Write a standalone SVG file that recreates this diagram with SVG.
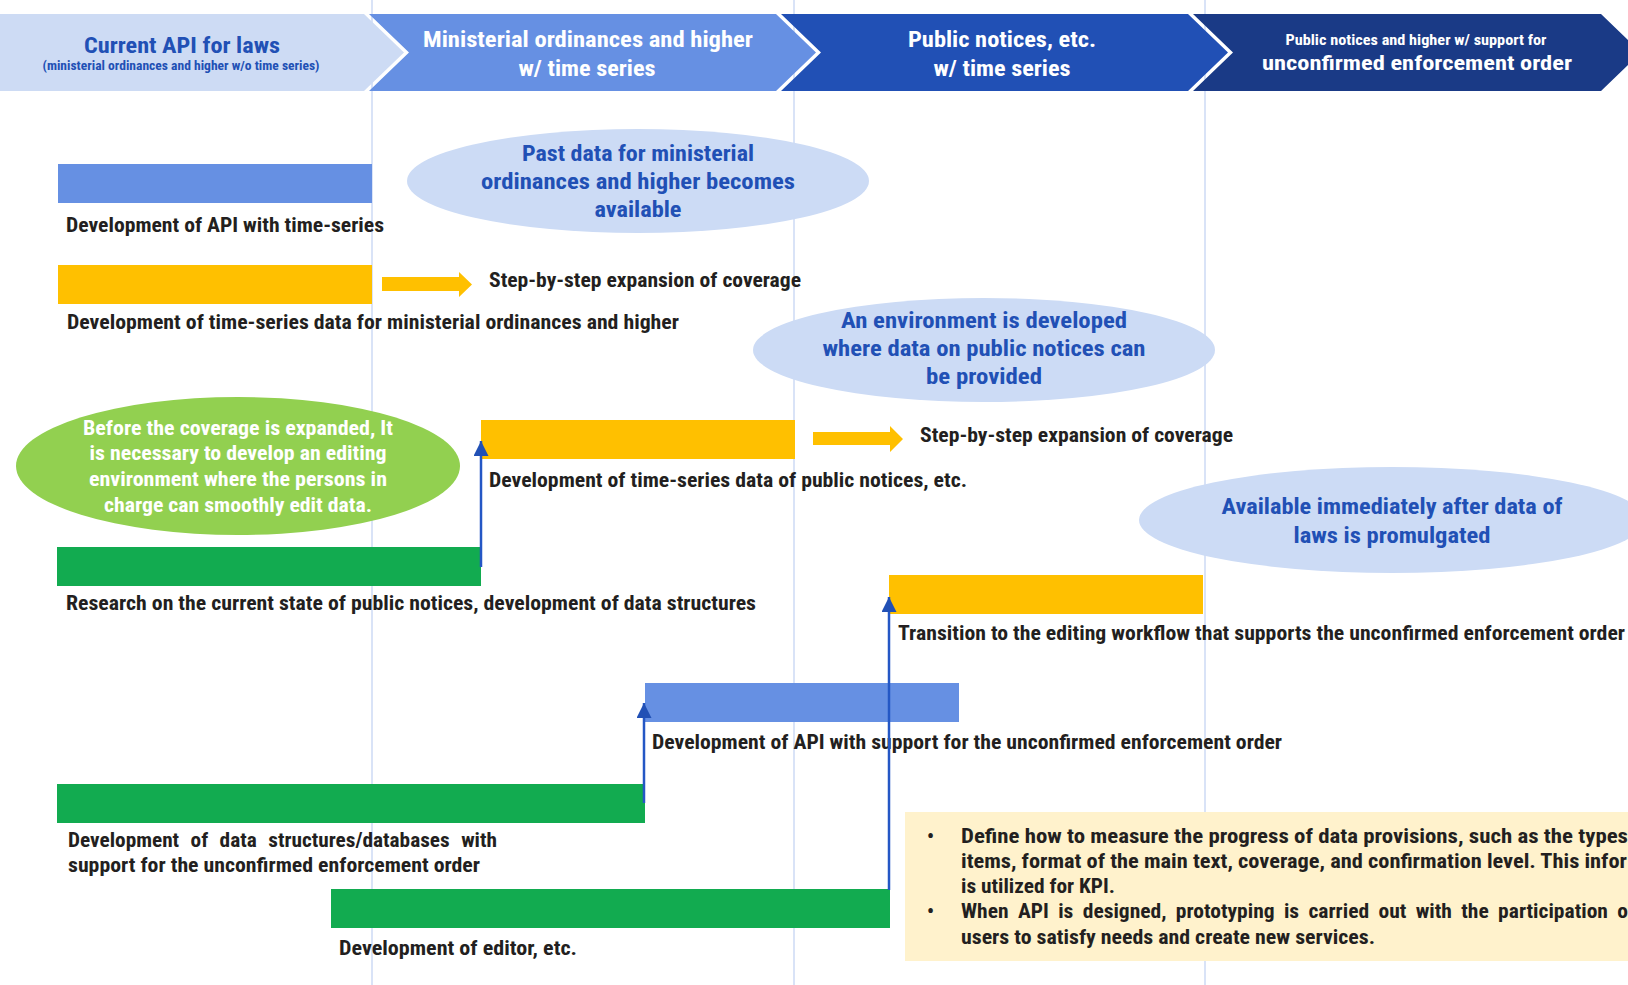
<svg xmlns="http://www.w3.org/2000/svg" width="1628" height="985" viewBox="0 0 1628 985">
<defs>
<style>
.t{font-family:"Liberation Sans Narrow","Roboto Condensed","Liberation Sans",Arial,sans-serif;font-weight:bold}
.lbl{fill:#231F20;font-size:19.5px}
.blu{fill:#2150B5;font-size:22.5px;text-anchor:middle}
.wc{fill:#FFFFFF;text-anchor:middle}
.grid{stroke:#CCDAF4;stroke-width:1.5}
.ell{fill:#CCDBF5}
.yel{fill:#FFC000}
.grn{fill:#12AB50}
.bbar{fill:#6690E3}
.conn{stroke:#2457C5;stroke-width:2.5;fill:none;marker-end:url(#ah)}
</style>
<marker id="ah" viewBox="0 0 15 15" refX="15" refY="7.5" markerWidth="15" markerHeight="15" markerUnits="userSpaceOnUse" orient="auto">
<path d="M0,0 L15,7.5 L0,15 z" fill="#2150B5"/>
</marker>
</defs>
<rect width="1628" height="985" fill="#FFFFFF"/>
<g id="gridlines">
<line class="grid" x1="372" y1="0" x2="372" y2="985"/>
<line class="grid" x1="794" y1="0" x2="794" y2="985"/>
<line class="grid" x1="1205" y1="0" x2="1205" y2="985"/>
</g>
<g id="phase1">
<polygon points="0,14 364,14 404,52.5 364,91 0,91" fill="#CDDBF4"/>
<text class="t" x="182" y="53" fill="#2150B5" font-size="22" text-anchor="middle" textLength="196" lengthAdjust="spacingAndGlyphs">Current API for laws</text>
<text class="t" x="181" y="70" fill="#2150B5" font-size="12.5" text-anchor="middle" textLength="277" lengthAdjust="spacingAndGlyphs">(ministerial ordinances and higher w/o time series)</text>
</g>
<g id="phase2">
<polygon points="369,14 776,14 816,52.5 776,91 369,91 409,52.5" fill="#6690E3"/>
<text class="t wc" x="588" y="47" font-size="22" textLength="330" lengthAdjust="spacingAndGlyphs">Ministerial ordinances and higher</text>
<text class="t wc" x="587" y="76" font-size="22" textLength="137" lengthAdjust="spacingAndGlyphs">w/ time series</text>
</g>
<g id="phase3">
<polygon points="781,14 1188,14 1228,52.5 1188,91 781,91 821,52.5" fill="#2150B5"/>
<text class="t wc" x="1002" y="47" font-size="22" textLength="188" lengthAdjust="spacingAndGlyphs">Public notices, etc.</text>
<text class="t wc" x="1002" y="76" font-size="22" textLength="137" lengthAdjust="spacingAndGlyphs">w/ time series</text>
</g>
<g id="phase4">
<polygon points="1193,14 1601,14 1641,52.5 1601,91 1193,91 1233,52.5" fill="#1A3A86"/>
<text class="t wc" x="1416" y="45" font-size="14.5" textLength="261" lengthAdjust="spacingAndGlyphs">Public notices and higher w/ support for</text>
<text class="t wc" x="1417" y="70" font-size="21" textLength="310" lengthAdjust="spacingAndGlyphs">unconfirmed enforcement order</text>
</g>
<g id="note-past-data">
<ellipse class="ell" cx="638" cy="181" rx="231" ry="52"/>
<text class="t blu" x="638" y="161" textLength="232" lengthAdjust="spacingAndGlyphs">Past data for ministerial</text>
<text class="t blu" x="638" y="189" textLength="314" lengthAdjust="spacingAndGlyphs">ordinances and higher becomes</text>
<text class="t blu" x="638" y="217" textLength="87" lengthAdjust="spacingAndGlyphs">available</text>
</g>
<g id="note-environment">
<ellipse class="ell" cx="984" cy="350" rx="231" ry="52"/>
<text class="t blu" x="984" y="328" textLength="286" lengthAdjust="spacingAndGlyphs">An environment is developed</text>
<text class="t blu" x="984" y="356" textLength="323" lengthAdjust="spacingAndGlyphs">where data on public notices can</text>
<text class="t blu" x="984" y="384" textLength="116" lengthAdjust="spacingAndGlyphs">be provided</text>
</g>
<g id="note-editing-env">
<ellipse cx="238" cy="466" rx="222" ry="69" fill="#92D050"/>
<text class="t wc" x="238" y="435" font-size="19.5" textLength="310" lengthAdjust="spacingAndGlyphs">Before the coverage is expanded, It</text>
<text class="t wc" x="238" y="460" font-size="19.5" textLength="297" lengthAdjust="spacingAndGlyphs">is necessary to develop an editing</text>
<text class="t wc" x="238" y="486" font-size="19.5" textLength="298" lengthAdjust="spacingAndGlyphs">environment where the persons in</text>
<text class="t wc" x="238" y="512" font-size="19.5" textLength="268" lengthAdjust="spacingAndGlyphs">charge can smoothly edit data.</text>
</g>
<g id="note-immediate">
<ellipse class="ell" cx="1392" cy="520" rx="253" ry="53"/>
<text class="t blu" x="1392" y="514" textLength="341" lengthAdjust="spacingAndGlyphs">Available immediately after data of</text>
<text class="t blu" x="1392" y="543" textLength="197" lengthAdjust="spacingAndGlyphs">laws is promulgated</text>
</g>
<g id="task-api-time-series">
<rect class="bbar" x="58" y="164" width="314" height="39"/>
<text class="t lbl" x="66" y="232" textLength="318" lengthAdjust="spacingAndGlyphs">Development of API with time-series</text>
</g>
<g id="task-data-ministerial">
<rect class="yel" x="58" y="265" width="314" height="39"/>
<text class="t lbl" x="67" y="329" textLength="612" lengthAdjust="spacingAndGlyphs">Development of time-series data for ministerial ordinances and higher</text>
</g>
<g id="expansion-1">
<polygon class="yel" points="382,277 459,277 459,272 472,284.5 459,297 459,291 382,291"/>
<text class="t lbl" x="489" y="287" textLength="312" lengthAdjust="spacingAndGlyphs">Step-by-step expansion of coverage</text>
</g>
<g id="task-data-public-notices">
<rect class="yel" x="481" y="420" width="314" height="39"/>
<text class="t lbl" x="489" y="487" textLength="478" lengthAdjust="spacingAndGlyphs">Development of time-series data of public notices, etc.</text>
</g>
<g id="expansion-2">
<polygon class="yel" points="813,432 890,432 890,426 903,439 890,452 890,445 813,445"/>
<text class="t lbl" x="920" y="442" textLength="313" lengthAdjust="spacingAndGlyphs">Step-by-step expansion of coverage</text>
</g>
<g id="task-research">
<rect class="grn" x="57" y="547" width="424" height="39"/>
<text class="t lbl" x="66" y="610" textLength="690" lengthAdjust="spacingAndGlyphs">Research on the current state of public notices, development of data structures</text>
</g>
<g id="task-transition">
<rect class="yel" x="889" y="575" width="314" height="39"/>
<text class="t lbl" x="898" y="640" textLength="727" lengthAdjust="spacingAndGlyphs">Transition to the editing workflow that supports the unconfirmed enforcement order</text>
</g>
<g id="task-api-unconfirmed">
<rect class="bbar" x="645" y="683" width="314" height="39"/>
<text class="t lbl" x="652" y="749" textLength="630" lengthAdjust="spacingAndGlyphs">Development of API with support for the unconfirmed enforcement order</text>
</g>
<g id="task-db-unconfirmed">
<rect class="grn" x="57" y="784" width="588" height="39"/>
<text class="t lbl" x="68" y="847" word-spacing="6" textLength="429" lengthAdjust="spacingAndGlyphs">Development of data structures/databases with</text>
<text class="t lbl" x="68" y="872" textLength="412" lengthAdjust="spacingAndGlyphs">support for the unconfirmed enforcement order</text>
</g>
<g id="task-editor">
<rect class="grn" x="331" y="889" width="559" height="39"/>
<text class="t lbl" x="339" y="955" textLength="238" lengthAdjust="spacingAndGlyphs">Development of editor, etc.</text>
</g>
<g id="note-kpi">
<rect x="905" y="812" width="740" height="149" fill="#FFF2CC"/>
<text class="t lbl" x="927" y="843">•</text>
<text class="t lbl" x="961" y="843" textLength="667" lengthAdjust="spacingAndGlyphs">Define how to measure the progress of data provisions, such as the types</text>
<text class="t lbl" x="961" y="868" textLength="666" lengthAdjust="spacingAndGlyphs">items, format of the main text, coverage, and confirmation level. This infor</text>
<text class="t lbl" x="961" y="893" textLength="154" lengthAdjust="spacingAndGlyphs">is utilized for KPI.</text>
<text class="t lbl" x="927" y="918">•</text>
<text class="t lbl" x="961" y="918" word-spacing="4" textLength="667" lengthAdjust="spacingAndGlyphs">When API is designed, prototyping is carried out with the participation o</text>
<text class="t lbl" x="961" y="944" textLength="414" lengthAdjust="spacingAndGlyphs">users to satisfy needs and create new services.</text>
</g>
<g id="connectors">
<path class="conn" d="M481,567 L481,441"/>
<path class="conn" d="M644,803 L644,703"/>
<path class="conn" d="M889,890 L889,597"/>
</g>
</svg>
